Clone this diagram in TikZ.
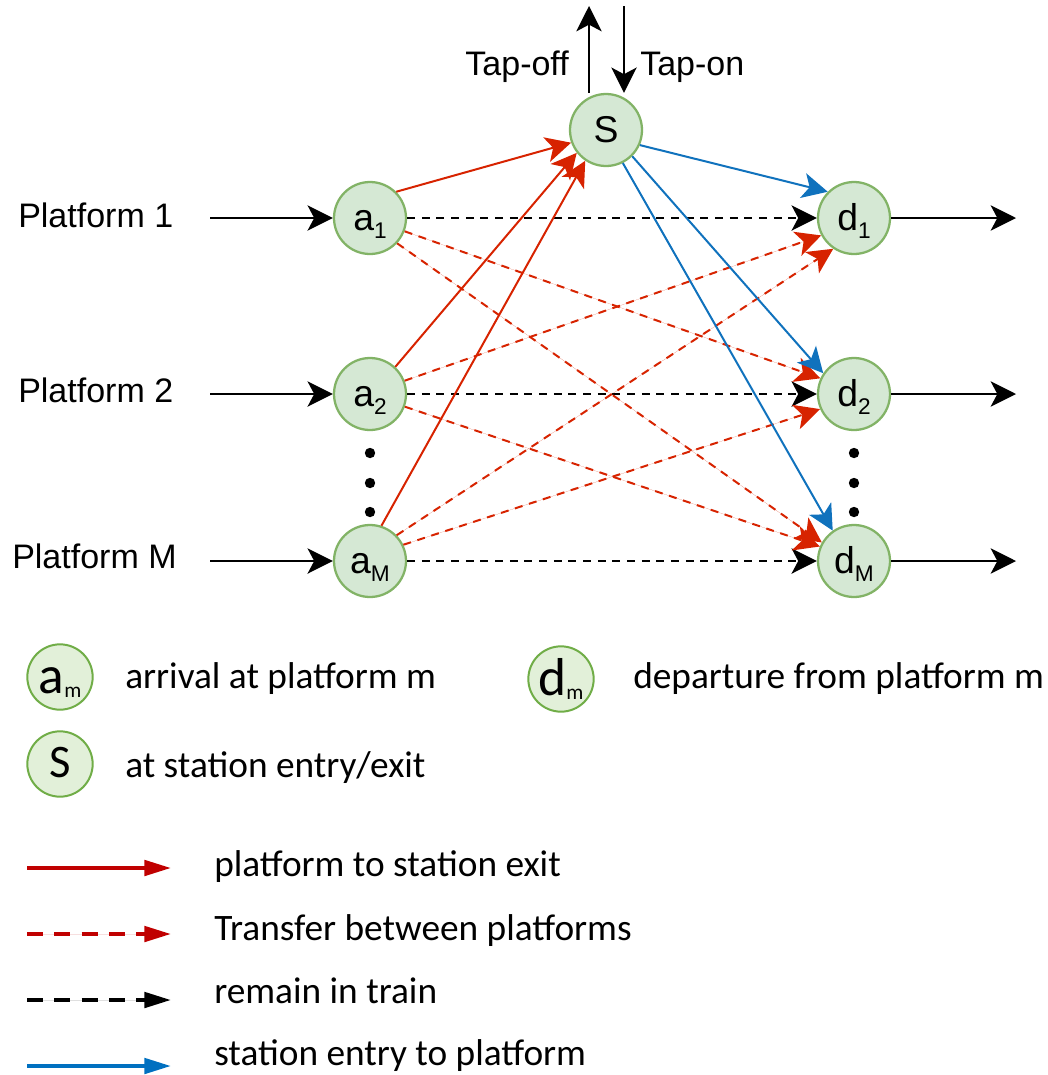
\documentclass[tikz,border=0pt]{standalone}
\usepackage{fontspec}
\setmainfont{Liberation Sans}
\newfontfamily\calfont{Carlito}
\usetikzlibrary{arrows.meta}
\definecolor{nfill}{HTML}{D5E8D4}
\definecolor{nline}{HTML}{82B366}
\definecolor{lfill}{HTML}{E2F0D9}
\definecolor{lline}{HTML}{70AD47}
\definecolor{mred}{RGB}{215,35,0}
\definecolor{mblue}{RGB}{16,114,189}
\definecolor{lred}{HTML}{C00000}
\definecolor{lblue}{HTML}{0070C0}
\newcommand\nsb[1]{\raisebox{-6pt}{\fontsize{17}{17}\selectfont #1}}
\newcommand\lsb[1]{\raisebox{-3pt}{\fontsize{16}{16}\selectfont #1}}
\begin{document}
\begin{tikzpicture}[x=0.75pt,y=-0.75pt,
  stn/.style={circle,draw=nline,fill=nfill,line width=1.7pt,minimum size=54pt,inner sep=0pt,
    font=\fontsize{28}{28}\selectfont,text height=18pt,text depth=0pt},
  legc/.style={circle,draw=lline,fill=lfill,line width=1.5pt,minimum size=49pt,inner sep=0pt,
    font=\calfont\fontsize{40}{40}\selectfont,text height=24pt,text depth=0pt},
  legs/.style={legc,font=\calfont\fontsize{35}{35}\selectfont,text height=19.5pt},
  mtext/.style={inner sep=0pt,font=\fontsize{25.5}{25.5}\selectfont},
  ltext/.style={inner sep=0pt,anchor=base west,font=\calfont\fontsize{28}{28}\selectfont},
  dotn/.style={circle,fill=black,inner sep=0pt,minimum size=7.8pt},
  arr/.style={line width=1.5pt,-{Stealth[length=19pt,width=19pt,inset=5pt]}},
  blkarr/.style={arr,draw=black},
  blkdash/.style={arr,draw=black,dash pattern=on 6pt off 5pt},
  redsolid/.style={arr,draw=mred,fill=mred},
  reddash/.style={arr,draw=mred,fill=mred,dash pattern=on 6pt off 5pt},
  bluesolid/.style={arr,draw=mblue,fill=mblue},
  larr/.style={line width=3pt,-{Triangle[length=20pt,width=11.5pt]}},
  ldash/.style={dash pattern=on 12pt off 8.5pt}
]
\useasboundingbox (0,0) rectangle (1048,1075);

% main nodes
\node[stn] (S) at (606,130) {S};
\node[stn] (a1) at (370,218) {a\nsb{1}};
\node[stn] (a2) at (370,394) {a\nsb{2}};
\node[stn] (aM) at (370,561) {a\nsb{M}};
\node[stn] (d1) at (854,218) {d\nsb{1}};
\node[stn] (d2) at (854,394) {d\nsb{2}};
\node[stn] (dM) at (854,561) {d\nsb{M}};

% dots
\node[dotn] (da1) at (370,453) {};
\node[dotn] (da2) at (370,483) {};
\node[dotn] (da3) at (370,512) {};
\node[dotn] (dd1) at (854,453) {};
\node[dotn] (dd2) at (854,483) {};
\node[dotn] (dd3) at (854,512) {};

% platform labels
\node[mtext,anchor=west] (p1) at (18,215) {Platform 1};
\node[mtext,anchor=west] (p2) at (18,390) {Platform 2};
\node[mtext,anchor=west] (pM) at (12,556) {Platform M};

% tap labels
\node[mtext,anchor=base east] (toffl) at (569,75) {Tap-off};
\node[mtext,anchor=base west] (tonl) at (640,75) {Tap-on};
\coordinate (toff) at (589,6);
\coordinate (ton) at (624,6);
\draw[blkarr] (S.north -| toff) -- (toff);
\draw[blkarr] (ton) -- (S.north -| ton);

% input / output arrows
\coordinate (in1) at (210,218);
\coordinate (in2) at (210,394);
\coordinate (inM) at (210,561);
\coordinate (out1) at (1016,218);
\coordinate (out2) at (1016,394);
\coordinate (outM) at (1016,561);
\draw[blkarr] (in1) -- (a1);
\draw[blkarr] (in2) -- (a2);
\draw[blkarr] (inM) -- (aM);
\draw[blkarr] (d1) -- (out1);
\draw[blkarr] (d2) -- (out2);
\draw[blkarr] (dM) -- (outM);

% remain in train
\draw[blkdash] (a1) -- (d1);
\draw[blkdash] (a2) -- (d2);
\draw[blkdash] (aM) -- (dM);

% transfers
\draw[reddash] (a1.339) -- (d2.155);
\draw[reddash] (a1.317) -- (dM.150);
\draw[reddash] (a2.21) -- (d1.208);
\draw[reddash] (a2.340) -- (dM.157);
\draw[reddash] (aM.44) -- (d1.236);
\draw[reddash] (aM.26) -- (d2.204);

% platform to station exit
\draw[redsolid] (a1.45) -- (S.200);
\draw[redsolid] (a2.47) -- (S.218);
\draw[redsolid] (aM.72) -- (S.236);

% station entry to platform
\draw[bluesolid] (S.336) -- (d1.135);
\draw[bluesolid] (S.315) -- (d2.146);
\draw[bluesolid] (S.297) -- (dM.125);

% legend nodes
\node[legc] (La) at (60,677) {a\lsb{m}};
\node[ltext] (Lat) at (125,688) {arrival at platform m};
\node[legc] (Ld) at (561,679) {d\lsb{m}};
\node[ltext] (Ldt) at (633,688) {departure from platform m};
\node[legs] (Ls) at (60,764) {S};
\node[ltext] (Lst) at (125,777) {at station entry/exit};

% legend arrows
\coordinate (l1s) at (27,868);  \coordinate (l1e) at (171,868);
\coordinate (l2s) at (27,934);  \coordinate (l2e) at (171,934);
\coordinate (l3s) at (27,1000); \coordinate (l3e) at (171,1000);
\coordinate (l4s) at (27,1066); \coordinate (l4e) at (171,1066);
\draw[larr,draw=lred,fill=lred] (l1s) -- (l1e);
\draw[larr,ldash,draw=lred,fill=lred] (l2s) -- (l2e);
\draw[larr,ldash,draw=black,fill=black] (l3s) -- (l3e);
\draw[larr,draw=lblue,fill=lblue] (l4s) -- (l4e);
\node[ltext] (L1t) at (214,876) {platform to station exit};
\node[ltext] (L2t) at (214,940) {Transfer between platforms};
\node[ltext] (L3t) at (214,1003) {remain in train};
\node[ltext] (L4t) at (214,1065) {station entry to platform};
\end{tikzpicture}
\end{document}
